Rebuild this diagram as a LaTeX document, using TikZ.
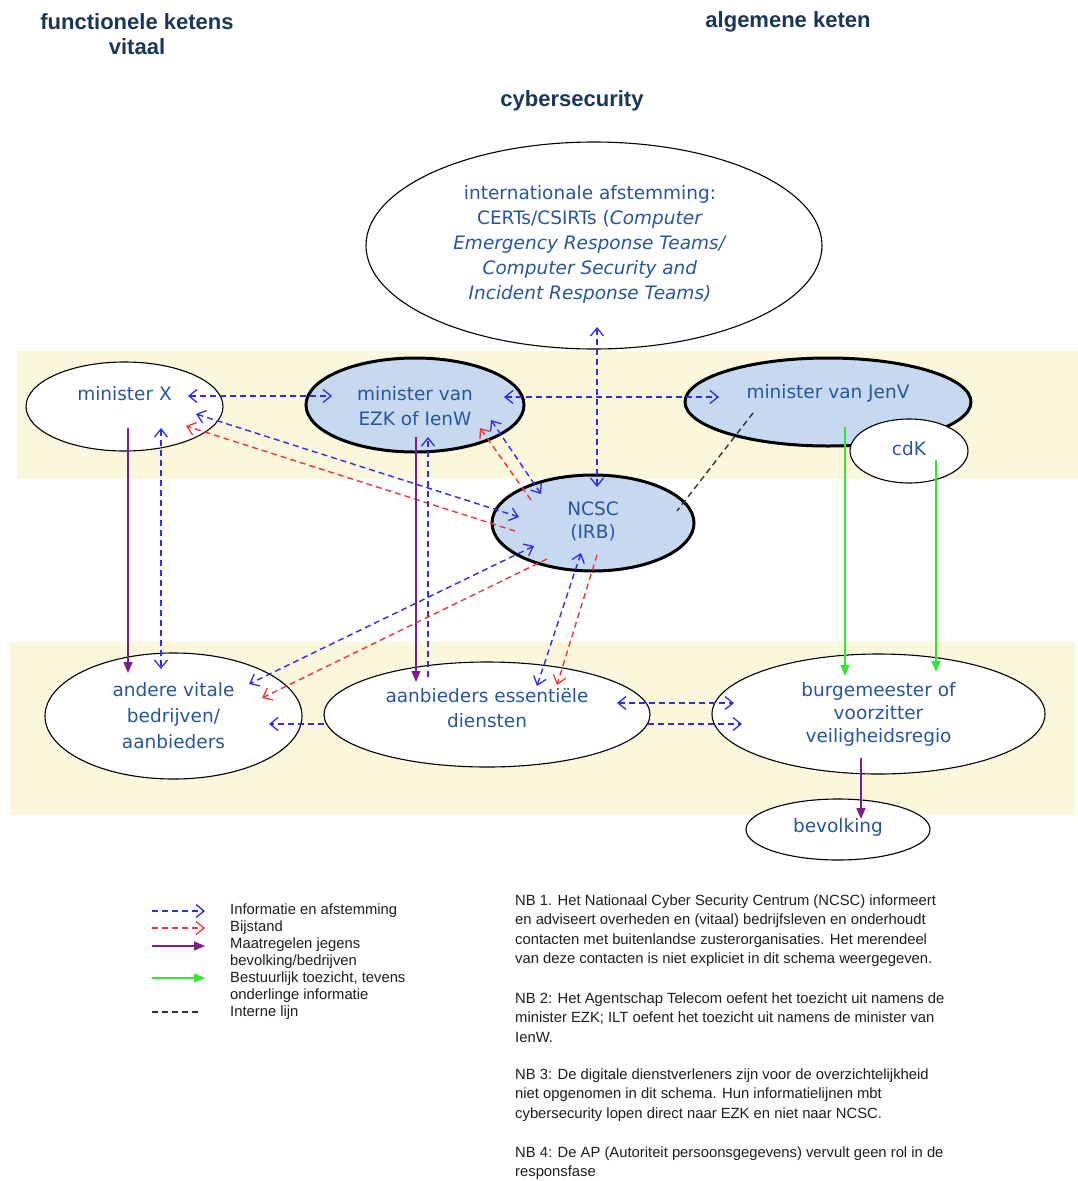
\documentclass[tikz,border=0pt]{standalone}
\usepackage{fontspec}
\setmainfont{DejaVu Sans}
\newfontfamily\arialf{Liberation Sans}
\usetikzlibrary{arrows.meta,shapes.geometric}
\definecolor{nodetext}{RGB}{40,85,160}
\definecolor{headtext}{RGB}{25,55,90}
\definecolor{bandfill}{RGB}{250,247,221}
\definecolor{ellblue}{RGB}{198,217,240}
\definecolor{infoblue}{RGB}{45,45,235}
\definecolor{bijred}{RGB}{240,55,55}
\definecolor{maatpurple}{RGB}{125,30,135}
\definecolor{toezgreen}{RGB}{50,230,50}
\definecolor{internblack}{RGB}{50,50,50}
\definecolor{nbtext}{RGB}{30,30,30}
\tikzset{
  barb/.tip={Straight Barb[length=8pt,width=13pt,line width=1.3pt]},
  tri/.tip={Triangle[length=11pt,width=9pt]}
}
\begin{document}
\begin{tikzpicture}[x=1pt,y=-1pt,
  ell/.style={ellipse, draw=black, line width=1.1pt, fill=white, inner sep=0pt},
  fatell/.style={ell, line width=3pt, fill=ellblue},
  ntxt/.style={text=nodetext, font=\fontsize{18.5}{26}\selectfont, align=center, inner sep=0pt},
  head/.style={text=headtext, font=\arialf\bfseries\fontsize{22}{25}\selectfont, align=center, inner sep=0pt},
  legtxt/.style={text=nbtext, font=\arialf\fontsize{14.8}{17}\selectfont, align=left, inner sep=0pt, anchor=west},
  nbtxt/.style={text=nbtext, font=\arialf\fontsize{14.8}{19.4}\selectfont, align=left, inner sep=0pt, anchor=west},
  info/.style={draw=infoblue, line width=1.4pt, dash pattern=on 6pt off 4pt},
  infotwo/.style={info, barb-barb},
  infoone/.style={info, -barb},
  bij/.style={draw=bijred, line width=1.4pt, dash pattern=on 6pt off 4pt, -barb},
  maat/.style={draw=maatpurple, fill=maatpurple, line width=1.4pt, -tri},
  toez/.style={draw=toezgreen, fill=toezgreen, line width=1.4pt, -tri},
  intern/.style={draw=internblack, line width=1.4pt, dash pattern=on 6pt off 4pt}
]
\useasboundingbox (0,0) rectangle (1078,1181);
\fill[white] (0,0) rectangle (1078,1181);

% bands
\fill[bandfill] (17,351) rectangle (1078,479);
\fill[bandfill] (10,642) rectangle (1075,815);

% headings
\node[head] (h1) at (137,34.5) {functionele ketens\\vitaal};
\node[head] (h2) at (788,22) {algemene keten};
\node[head] (h3) at (572,101) {cybersecurity};

% ellipses
\node[ell, minimum width=456pt, minimum height=207pt] (intl) at (594,245.5) {};
\node[ell, minimum width=197pt, minimum height=89pt] (mx) at (124.5,406.5) {};
\node[fatell, minimum width=218pt, minimum height=94pt] (ezk) at (415,405) {};
\node[fatell, minimum width=286pt, minimum height=88pt] (jenv) at (828,402) {};
\node[ell, minimum width=118pt, minimum height=64pt] (cdk) at (909,451) {};
\node[fatell, minimum width=202pt, minimum height=96pt] (ncsc) at (593,523) {};
\node[ell, minimum width=257pt, minimum height=126pt] (av) at (173.5,716) {};
\node[ell, minimum width=326pt, minimum height=105pt] (aed) at (487,714.5) {};
\node[ell, minimum width=333pt, minimum height=120pt] (bg) at (878.5,714) {};
\node[ell, minimum width=184pt, minimum height=61pt] (bev) at (838,829.5) {};

% texts
\node[ntxt, font=\fontsize{18.5}{25}\selectfont] (intlt) at (590,244) {internationale afstemming:\\CERTs/CSIRTs (\textit{Computer}\\\textit{Emergency Response Teams/}\\\textit{Computer Security and}\\\textit{Incident Response Teams)}};
\node[ntxt] (mxt) at (124.5,394) {minister X};
\node[ntxt, font=\fontsize{18.5}{25}\selectfont] (ezkt) at (415,406.5) {minister van\\EZK of IenW};
\node[ntxt] (jenvt) at (828,393) {minister van JenV};
\node[ntxt] (cdkt) at (909,449) {cdK};
\node[ntxt, font=\fontsize{18.5}{23}\selectfont] (ncsct) at (593,521.5) {NCSC\\(IRB)};
\node[ntxt] (avt) at (173.5,716) {andere vitale\\bedrijven/\\aanbieders};
\node[ntxt, font=\fontsize{18.5}{25}\selectfont] (aedt) at (487,708.5) {aanbieders essentiële\\diensten};
\node[ntxt, font=\fontsize{18.5}{23}\selectfont] (bgt) at (878.5,714.5) {burgemeester of\\voorzitter\\veiligheidsregio};
\node[ntxt] (bevt) at (838,827) {bevolking};

% connector end points
\coordinate (mxR) at (188,396);   \coordinate (ezkL) at (332,396);
\coordinate (ezkR) at (504,397);  \coordinate (jenvL) at (719,397);
\coordinate (intlB) at (597,327); \coordinate (ncscT) at (597,487);
\coordinate (mxA) at (196,414);   \coordinate (ncscA) at (519,517);
\coordinate (ncscB) at (515,531); \coordinate (mxB) at (186,426);
\coordinate (ezkA) at (491,420);  \coordinate (ncscC) at (541,494);
\coordinate (ncscD) at (531,500); \coordinate (ezkB) at (480,428);
\coordinate (jenvI) at (753,413); \coordinate (ncscI) at (677,511);
\coordinate (mxP) at (128,428);   \coordinate (avP) at (128,673);
\coordinate (mxV) at (161,428);   \coordinate (avV) at (161,669);
\coordinate (ezkP) at (416,437);  \coordinate (aedP) at (416,682);
\coordinate (aedV) at (428,677);  \coordinate (ezkV) at (428,437);
\coordinate (ncscE) at (534,546); \coordinate (avE) at (249,684);
\coordinate (ncscF) at (547,559); \coordinate (avF) at (262,698);
\coordinate (ncscG) at (581,553); \coordinate (aedG) at (537,686);
\coordinate (ncscH) at (597,555); \coordinate (aedH) at (557,685);
\coordinate (aedR1) at (617,703); \coordinate (bgL1) at (734,703);
\coordinate (aedR2) at (648,724); \coordinate (bgL2) at (742,724);
\coordinate (aedL) at (324,724);  \coordinate (avR) at (269,724);
\coordinate (jenvG) at (845,427); \coordinate (bgG1) at (845,676);
\coordinate (cdkG) at (936,460);  \coordinate (bgG2) at (936,672);
\coordinate (bgP) at (861,758);   \coordinate (bevP) at (861,819);

% connectors
\draw[infotwo] (mxR) -- (ezkL);
\draw[infotwo] (ezkR) -- (jenvL);
\draw[infotwo] (intlB) -- (ncscT);
\draw[infotwo] (mxA) -- (ncscA);
\draw[bij] (ncscB) -- (mxB);
\draw[infotwo] (ezkA) -- (ncscC);
\draw[bij] (ncscD) -- (ezkB);
\draw[intern] (jenvI) -- (ncscI);
\draw[maat] (mxP) -- (avP);
\draw[infotwo] (mxV) -- (avV);
\draw[maat] (ezkP) -- (aedP);
\draw[infoone] (aedV) -- (ezkV);
\draw[infotwo] (ncscE) -- (avE);
\draw[bij] (ncscF) -- (avF);
\draw[infotwo] (ncscG) -- (aedG);
\draw[bij] (ncscH) -- (aedH);
\draw[infotwo] (aedR1) -- (bgL1);
\draw[infoone] (aedR2) -- (bgL2);
\draw[infoone] (aedL) -- (avR);
\draw[toez] (jenvG) -- (bgG1);
\draw[toez] (cdkG) -- (bgG2);
\draw[maat] (bgP) -- (bevP);

% legend
\coordinate (l1a) at (152,911);  \coordinate (l1b) at (205,911);
\coordinate (l2a) at (152,928);  \coordinate (l2b) at (205,928);
\coordinate (l3a) at (152,946);  \coordinate (l3b) at (205,946);
\coordinate (l4a) at (152,978);  \coordinate (l4b) at (205,978);
\coordinate (l5a) at (152,1012); \coordinate (l5b) at (200,1012);
\draw[infoone] (l1a) -- (l1b);
\draw[bij] (l2a) -- (l2b);
\draw[maat] (l3a) -- (l3b);
\draw[toez] (l4a) -- (l4b);
\draw[intern] (l5a) -- (l5b);
\node[legtxt] (lt1) at (230,911) {Informatie en afstemming};
\node[legtxt] (lt2) at (230,928) {Bijstand};
\node[legtxt] (lt3) at (230,953.5) {Maatregelen jegens\\bevolking/bedrijven};
\node[legtxt] (lt4) at (230,987.5) {Bestuurlijk toezicht, tevens\\onderlinge informatie};
\node[legtxt] (lt5) at (230,1013) {Interne lijn};

% notes
\node[nbtxt] (nb1) at (515,930.5) {NB 1. Het Nationaal Cyber Security Centrum (NCSC) informeert\\en adviseert overheden en (vitaal) bedrijfsleven en onderhoudt\\contacten met buitenlandse zusterorganisaties. Het merendeel\\van deze contacten is niet expliciet in dit schema weergegeven.};
\node[nbtxt] (nb2) at (515,1017.5) {NB 2: Het Agentschap Telecom oefent het toezicht uit namens de\\minister EZK; ILT oefent het toezicht uit namens de minister van\\IenW.};
\node[nbtxt] (nb3) at (515,1095) {NB 3: De digitale dienstverleners zijn voor de overzichtelijkheid\\niet opgenomen in dit schema. Hun informatielijnen mbt\\cybersecurity lopen direct naar EZK en niet naar NCSC.};
\node[nbtxt] (nb4) at (515,1163) {NB 4: De AP (Autoriteit persoonsgegevens) vervult geen rol in de\\responsfase};
\end{tikzpicture}
\end{document}
